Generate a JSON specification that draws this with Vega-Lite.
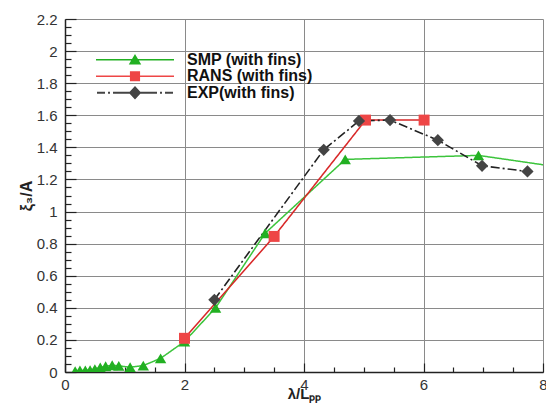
{
  "$schema": "https://vega.github.io/schema/vega-lite/v6.json",
  "width": 478,
  "height": 353,
  "autosize": "none",
  "padding": {"left": 65, "top": 19, "right": 3, "bottom": 40},
  "background": "white",
  "config": {
    "view": {"stroke": null},
    "font": "Liberation Sans",
    "axis": {
      "labelFont": "Liberation Sans",
      "labelFontSize": 15,
      "labelColor": "#333333",
      "titleFont": "Liberation Sans",
      "titleFontSize": 16,
      "titleFontWeight": "bold",
      "titleColor": "#222222",
      "domainColor": "#222222",
      "domainWidth": 1.5,
      "tickColor": "#222222",
      "tickWidth": 1.2,
      "gridColor": "#8a8a8a",
      "gridWidth": 1,
      "labelOverlap": false,
      "labelFlush": false
    },
    "legend": {
      "title": null,
      "orient": "none",
      "padding": 0,
      "clipHeight": 16.5,
      "rowPadding": 0,
      "symbolSize": 6084,
      "symbolStrokeWidth": 0,
      "symbolOpacity": 1,
      "labelOffset": 13,
      "labelFont": "Liberation Sans",
      "labelFontSize": 16,
      "labelFontWeight": "bold",
      "labelColor": "#111111"
    }
  },
  "data": {
    "values": [
      {"s": "SMP (with fins)", "x": 0.17, "y": 0.005},
      {"s": "SMP (with fins)", "x": 0.25, "y": 0.01},
      {"s": "SMP (with fins)", "x": 0.34, "y": 0.01},
      {"s": "SMP (with fins)", "x": 0.42, "y": 0.012},
      {"s": "SMP (with fins)", "x": 0.5, "y": 0.018},
      {"s": "SMP (with fins)", "x": 0.59, "y": 0.028},
      {"s": "SMP (with fins)", "x": 0.68, "y": 0.036},
      {"s": "SMP (with fins)", "x": 0.79, "y": 0.042},
      {"s": "SMP (with fins)", "x": 0.9, "y": 0.038},
      {"s": "SMP (with fins)", "x": 1.09, "y": 0.03},
      {"s": "SMP (with fins)", "x": 1.31, "y": 0.04},
      {"s": "SMP (with fins)", "x": 1.6, "y": 0.085},
      {"s": "SMP (with fins)", "x": 2.0, "y": 0.19},
      {"s": "SMP (with fins)", "x": 2.52, "y": 0.4},
      {"s": "SMP (with fins)", "x": 3.35, "y": 0.865},
      {"s": "SMP (with fins)", "x": 4.69, "y": 1.325},
      {"s": "SMP (with fins)", "x": 6.92, "y": 1.35},
      {"s": "SMP (with fins)", "x": 8.4, "y": 1.27},
      {"s": "RANS (with fins)", "x": 2.0, "y": 0.21},
      {"s": "RANS (with fins)", "x": 3.5, "y": 0.845},
      {"s": "RANS (with fins)", "x": 5.03, "y": 1.57},
      {"s": "RANS (with fins)", "x": 6.01, "y": 1.57},
      {"s": "EXP(with fins)", "x": 2.5, "y": 0.45},
      {"s": "EXP(with fins)", "x": 4.33, "y": 1.385},
      {"s": "EXP(with fins)", "x": 4.92, "y": 1.565},
      {"s": "EXP(with fins)", "x": 5.44, "y": 1.57},
      {"s": "EXP(with fins)", "x": 6.24, "y": 1.445},
      {"s": "EXP(with fins)", "x": 6.98, "y": 1.285},
      {"s": "EXP(with fins)", "x": 7.74, "y": 1.25}
    ]
  },
  "encoding": {
    "x": {
      "field": "x",
      "type": "quantitative",
      "scale": {"domain": [0, 8], "nice": false, "zero": false},
      "axis": {
        "title": "λ/Lₚₚ",
        "titlePadding": -10,
        "titleFontSize": 15,
        "values": [0, 0.5, 1, 1.5, 2, 2.5, 3, 3.5, 4, 4.5, 5, 5.5, 6, 6.5, 7, 7.5, 8],
        "labelExpr": "datum.value % 2 == 0 ? format(datum.value, 'd') : ''",
        "tickSize": {"condition": {"test": "datum.value % 2 == 0", "value": -9}, "value": -5},
        "gridOpacity": {"condition": {"test": "datum.value % 2 == 0", "value": 1}, "value": 0},
        "labelPadding": 14
      }
    },
    "y": {
      "field": "y",
      "type": "quantitative",
      "scale": {"domain": [0, 2.2], "nice": false, "zero": false},
      "axis": {
        "title": "ξ₃/A",
        "titlePadding": 2,
        "values": [0, 0.05, 0.1, 0.15, 0.2, 0.25, 0.3, 0.35, 0.4, 0.45, 0.5, 0.55, 0.6, 0.65, 0.7, 0.75, 0.8, 0.85, 0.9, 0.95, 1, 1.05, 1.1, 1.15, 1.2, 1.25, 1.3, 1.35, 1.4, 1.45, 1.5, 1.55, 1.6, 1.65, 1.7, 1.75, 1.8, 1.85, 1.9, 1.95, 2, 2.05, 2.1, 2.15, 2.2],
        "labelExpr": "abs(datum.value * 5 - round(datum.value * 5)) < 0.001 ? format(datum.value, '.1~f') : ''",
        "tickSize": {"condition": {"test": "abs(datum.value * 5 - round(datum.value * 5)) < 0.001", "value": -11}, "value": -6},
        "gridOpacity": {"condition": {"test": "abs(datum.value * 5 - round(datum.value * 5)) < 0.001", "value": 1}, "value": 0},
        "labelPadding": 19
      }
    }
  },
  "layer": [
    {
      "mark": {"type": "line", "clip": true},
      "encoding": {
        "stroke": {
          "field": "s",
          "type": "nominal",
          "scale": {
            "domain": ["SMP (with fins)", "RANS (with fins)", "EXP(with fins)"],
            "range": ["#3cc43c", "#d82828", "#222222"]
          },
          "legend": null
        },
        "strokeDash": {
          "field": "s",
          "type": "nominal",
          "scale": {
            "domain": ["SMP (with fins)", "RANS (with fins)", "EXP(with fins)"],
            "range": [[1, 0], [1, 0], [9, 3, 2, 3]]
          },
          "legend": null
        },
        "strokeWidth": {
          "field": "s",
          "type": "nominal",
          "scale": {
            "domain": ["SMP (with fins)", "RANS (with fins)", "EXP(with fins)"],
            "range": [1.5, 1.6, 2]
          },
          "legend": null
        }
      }
    },
    {
      "transform": [{"filter": "datum.s == 'SMP (with fins)'"}],
      "mark": {"type": "point", "filled": true, "opacity": 1, "clip": true, "size": 130, "shape": "triangle-up"},
      "encoding": {
        "color": {
          "field": "s",
          "type": "nominal",
          "scale": {"domain": ["SMP (with fins)"], "range": ["#22b022"]},
          "legend": {
            "legendX": 31,
            "legendY": 32.5,
            "symbolType": "M-1,-0.02L1,-0.02L1,0.02L-1,0.02Z M0,-0.15L0.16,0.12L-0.16,0.12Z"
          }
        }
      }
    },
    {
      "transform": [{"filter": "datum.s == 'RANS (with fins)'"}],
      "mark": {"type": "point", "filled": true, "opacity": 1, "clip": true, "size": 120, "shape": "square"},
      "encoding": {
        "color": {
          "field": "s",
          "type": "nominal",
          "scale": {"domain": ["RANS (with fins)"], "range": ["#ee4646"]},
          "legend": {
            "legendX": 31,
            "legendY": 49,
            "symbolType": "M-1,-0.02L1,-0.02L1,0.02L-1,0.02Z M-0.13,-0.13L0.13,-0.13L0.13,0.13L-0.13,0.13Z"
          }
        }
      }
    },
    {
      "transform": [{"filter": "datum.s == 'EXP(with fins)'"}],
      "mark": {"type": "point", "filled": true, "opacity": 1, "clip": true, "size": 150, "shape": "diamond"},
      "encoding": {
        "color": {
          "field": "s",
          "type": "nominal",
          "scale": {"domain": ["EXP(with fins)"], "range": ["#444444"]},
          "legend": {
            "legendX": 31,
            "legendY": 65.5,
            "symbolType": "M-0.974,-0.026L-0.769,-0.026L-0.769,0.026L-0.974,0.026Z M-0.692,-0.026L-0.641,-0.026L-0.641,0.026L-0.692,0.026Z M-0.564,-0.026L-0.1,-0.026L-0.1,0.026L-0.564,0.026Z M0.1,-0.026L0.564,-0.026L0.564,0.026L0.1,0.026Z M0.641,-0.026L0.692,-0.026L0.692,0.026L0.641,0.026Z M0.769,-0.026L0.974,-0.026L0.974,0.026L0.769,0.026Z M0,-0.17L0.16,0L0,0.17L-0.16,0Z"
          }
        }
      }
    }
  ],
  "resolve": {
    "scale": {"color": "independent"},
    "legend": {"color": "independent"}
  }
}
